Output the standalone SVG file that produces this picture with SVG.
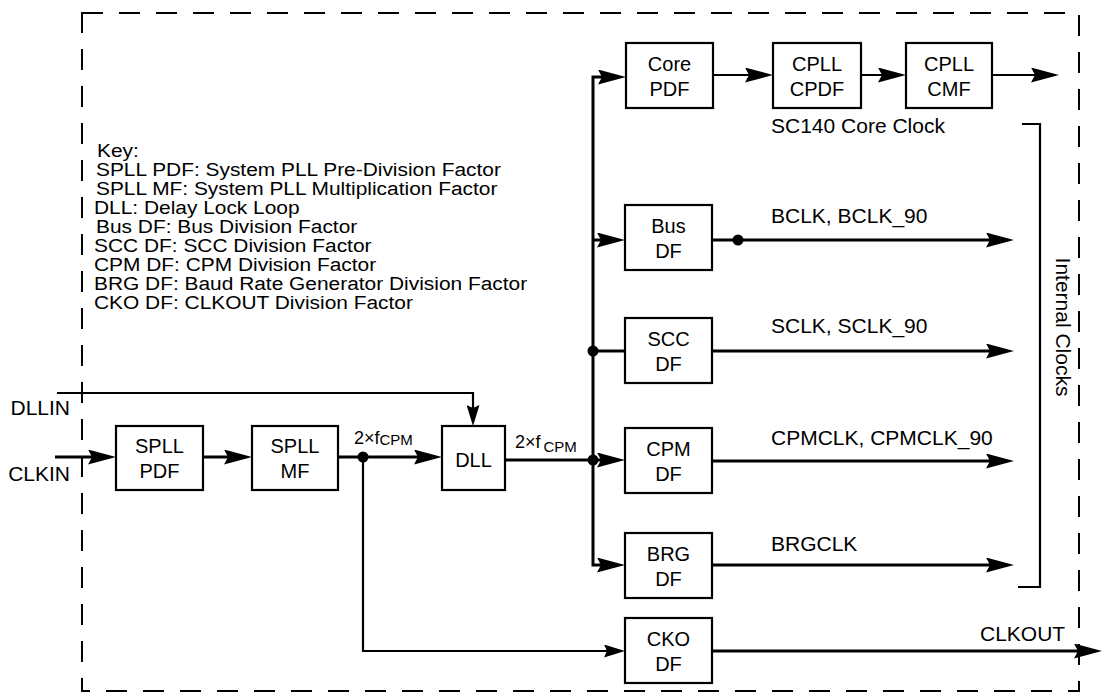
<svg xmlns="http://www.w3.org/2000/svg" width="1104" height="693" viewBox="0 0 1104 693">
<defs>
<style>
text{font-family:"Liberation Sans",Arial,Helvetica,sans-serif;fill:#000}
.lbl{font-size:21px}
.box rect{fill:#fff;stroke:#000;stroke-width:2.2}
.box text{font-size:20px;text-anchor:middle}
.key{font-size:19px}
.w3{fill:none;stroke:#000;stroke-width:3}
.w2{fill:none;stroke:#000;stroke-width:2.2}
.border{fill:none;stroke:#000;stroke-width:2;stroke-dasharray:21 16}
</style>
<marker id="ah" markerUnits="userSpaceOnUse" viewBox="0 0 28 15" markerWidth="28" markerHeight="15" refX="17" refY="7.5" orient="auto">
<path d="M0,0 L28,7.5 L0,15 L4,7.5 z" fill="#000"/>
</marker>
<marker id="as" markerUnits="userSpaceOnUse" viewBox="0 0 21 13" markerWidth="21" markerHeight="13" refX="13" refY="6.5" orient="auto">
<path d="M0,0 L21,6.5 L0,13 L3,6.5 z" fill="#000"/>
</marker>
</defs>
<rect x="0" y="0" width="1104" height="693" fill="#fff"/>
<rect class="border" x="82" y="13" width="997" height="678"/>

<g id="key" transform="translate(94,0) scale(1.1,1)">
<text class="key" x="2.7" y="157">Key:</text>
<text class="key" x="1.8" y="176">SPLL PDF: System PLL Pre-Division Factor</text>
<text class="key" x="1.8" y="195">SPLL MF: System PLL Multiplication Factor</text>
<text class="key" x="0" y="214">DLL: Delay Lock Loop</text>
<text class="key" x="1.8" y="233">Bus DF: Bus Division Factor</text>
<text class="key" x="0" y="252.5">SCC DF: SCC Division Factor</text>
<text class="key" x="0" y="271.5">CPM DF: CPM Division Factor</text>
<text class="key" x="0" y="290.5">BRG DF: Baud Rate Generator Division Factor</text>
<text class="key" x="0" y="309.5">CKO DF: CLKOUT Division Factor</text>
</g>

<g id="connectors">
<path class="w3" d="M55,457 H105" marker-end="url(#ah)"/>
<path class="w3" d="M203,457 H241" marker-end="url(#ah)"/>
<path class="w3" d="M338,457 H431" marker-end="url(#ah)"/>
<path class="w2" d="M57,393 H473 V418" marker-end="url(#as)"/>
<path class="w3" d="M505,460 H593"/>
<path class="w3" d="M593,460 V77 H615" marker-end="url(#ah)"/>
<path class="w3" d="M593,460 V565 H614" marker-end="url(#ah)"/>
<path class="w3" d="M593,240 H614" marker-end="url(#ah)"/>
<path class="w3" d="M593,351 H625"/>
<path class="w3" d="M593,460 H614" marker-end="url(#ah)"/>
<path class="w2" d="M713,75 H762" marker-end="url(#ah)"/>
<path class="w2" d="M861,75 H895" marker-end="url(#ah)"/>
<path class="w2" d="M992,75 H1048" marker-end="url(#ah)"/>
<path class="w3" d="M712,240 H1003" marker-end="url(#ah)"/>
<path class="w3" d="M712,351 H1003" marker-end="url(#ah)"/>
<path class="w3" d="M712,461 H1003" marker-end="url(#ah)"/>
<path class="w3" d="M712,565 H1003" marker-end="url(#ah)"/>
<path class="w2" d="M363,457 V651 H617" marker-end="url(#as)"/>
<path class="w3" d="M712,651 H1091" marker-end="url(#ah)"/>
<path class="w2" d="M1022,124 H1040 V587 H1018"/>
<circle cx="363" cy="457" r="5.5"/>
<circle cx="593" cy="351" r="5.5"/>
<circle cx="593" cy="460" r="5.5"/>
<circle cx="738" cy="240" r="5.5"/>
</g>

<g id="labels">
<text class="lbl" x="70" y="415" text-anchor="end">DLLIN</text>
<text class="lbl" x="70" y="481" text-anchor="end">CLKIN</text>
<text x="354" y="444"><tspan font-size="18">2×f</tspan><tspan font-size="15" dy="1">CPM</tspan></text>
<text x="515" y="448"><tspan font-size="18">2×f</tspan><tspan font-size="15" dx="3" dy="4">CPM</tspan></text>
<text class="lbl" x="771" y="133">SC140 Core Clock</text>
<text class="lbl" x="771" y="223">BCLK, BCLK_90</text>
<text class="lbl" x="771" y="333">SCLK, SCLK_90</text>
<text class="lbl" x="771" y="445">CPMCLK, CPMCLK_90</text>
<text class="lbl" x="771" y="551">BRGCLK</text>
<text class="lbl" x="980" y="641">CLKOUT</text>
<text class="lbl" transform="translate(1056,327) rotate(90)" text-anchor="middle">Internal Clocks</text>
</g>

<g id="spll_pdf" class="box"><rect x="116" y="426" width="87" height="64"/><text x="159.5" y="453">SPLL</text><text x="159.5" y="478">PDF</text></g>
<g id="spll_mf" class="box"><rect x="252" y="426" width="86" height="64"/><text x="295" y="453">SPLL</text><text x="295" y="478">MF</text></g>
<g id="dll" class="box"><rect x="442" y="426" width="63" height="64"/><text x="473.5" y="467">DLL</text></g>
<g id="core_pdf" class="box"><rect x="626" y="43" width="87" height="65"/><text x="669.5" y="70.5">Core</text><text x="669.5" y="95.5">PDF</text></g>
<g id="cpll_cpdf" class="box"><rect x="773" y="43" width="88" height="65"/><text x="817" y="70.5">CPLL</text><text x="817" y="95.5">CPDF</text></g>
<g id="cpll_cmf" class="box"><rect x="906" y="43" width="86" height="65"/><text x="949" y="70.5">CPLL</text><text x="949" y="95.5">CMF</text></g>
<g id="bus_df" class="box"><rect x="625" y="205" width="87" height="65"/><text x="668.5" y="233">Bus</text><text x="668.5" y="258">DF</text></g>
<g id="scc_df" class="box"><rect x="625" y="318" width="87" height="65"/><text x="668.5" y="346">SCC</text><text x="668.5" y="371">DF</text></g>
<g id="cpm_df" class="box"><rect x="625" y="428" width="87" height="65"/><text x="668.5" y="456">CPM</text><text x="668.5" y="481">DF</text></g>
<g id="brg_df" class="box"><rect x="625" y="533" width="87" height="65"/><text x="668.5" y="561">BRG</text><text x="668.5" y="586">DF</text></g>
<g id="cko_df" class="box"><rect x="625" y="618" width="87" height="65"/><text x="668.5" y="646">CKO</text><text x="668.5" y="671">DF</text></g>
</svg>
